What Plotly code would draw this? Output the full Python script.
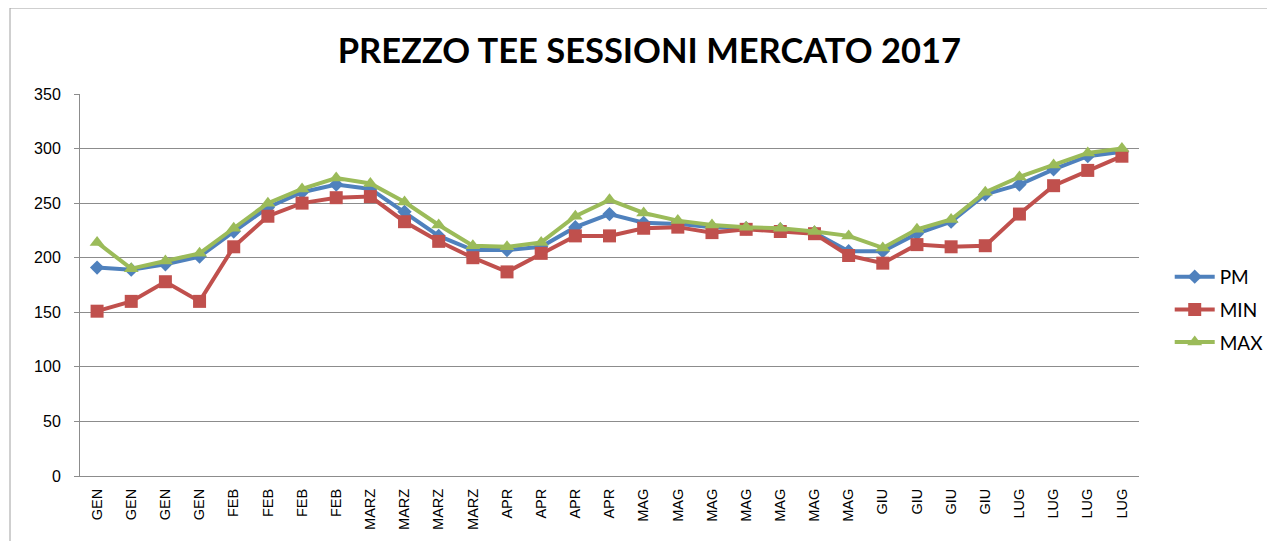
import plotly.graph_objects as go

categories = ["GEN"] * 4 + ["FEB"] * 4 + ["MARZ"] * 4 + ["APR"] * 4 + ["MAG"] * 7 + ["GIU"] * 4 + ["LUG"] * 4

pm = [191, 189, 194, 201, 224, 246, 260, 267, 263, 242, 220, 207, 207, 210, 228, 240,
      232, 231, 228, 227, 226, 223, 206, 206, 222, 233, 258, 267, 281, 293, 297]
mn = [151, 160, 178, 160, 210, 238, 250, 255, 256, 233, 215, 200, 187, 204, 220, 220,
      227, 228, 223, 226, 224, 222, 202, 195, 212, 210, 211, 240, 266, 280, 293]
mx = [214, 190, 197, 204, 227, 250, 263, 273, 268, 251, 230, 211, 210, 214, 238, 253,
      241, 234, 230, 228, 227, 224, 220, 209, 226, 235, 260, 274, 285, 296, 300]

y_ticks = [0, 50, 100, 150, 200, 250, 300, 350]

idx = list(range(len(categories)))

fig = go.Figure()
fig.add_trace(go.Scatter(x=idx, y=pm, name="PM", mode="lines+markers", legendgroup="a",
                         line=dict(color="#4F81BD", width=4),
                         marker=dict(symbol="diamond", size=11, color="#4F81BD")))
fig.add_trace(go.Scatter(x=idx, y=mn, name="MIN", mode="lines+markers", legendgroup="b",
                         line=dict(color="#C0504D", width=4),
                         marker=dict(symbol="square", size=13, color="#C0504D")))
fig.add_trace(go.Scatter(x=idx, y=mx, name="MAX", mode="lines+markers", legendgroup="c",
                         line=dict(color="#9BBB59", width=4),
                         marker=dict(symbol="triangle-up", size=13, color="#9BBB59")))

fig.update_layout(
    width=1275, height=541,
    margin=dict(l=72, r=144, t=86, b=73),
    paper_bgcolor="white", plot_bgcolor="white",
    title=dict(text="<b>PREZZO TEE SESSIONI MERCATO 2017</b>", x=0.503, xanchor="center",
               y=0.92, yanchor="middle",
               font=dict(family="Lato", size=34.5, color="black")),
    xaxis=dict(range=[-0.5, len(categories) - 0.5], tickmode="array", tickvals=idx,
               ticktext=categories, tickangle=-90, showgrid=False, zeroline=False,
               showline=True, linecolor="#8c8c8c", linewidth=1,
               ticks="outside", ticklen=4, tickcolor="white", ticklabelstandoff=2,
               tickfont=dict(family="Liberation Sans", size=14.5, color="black")),
    yaxis=dict(range=[0, 350], tickvals=y_ticks, showgrid=True, gridcolor="#8c8c8c",
               gridwidth=1, zeroline=False, showline=True, linecolor="#8c8c8c",
               ticks="outside", ticklen=5, tickcolor="#8c8c8c", ticklabelstandoff=10,
               tickfont=dict(family="Liberation Sans", size=16, color="black")),
    legend=dict(x=1.029, y=0.435, xanchor="left", yanchor="middle",
                font=dict(family="Lato", size=19, color="black"),
                tracegroupgap=5, itemwidth=40),
    shapes=[dict(type="rect", xref="paper", yref="paper",
                 x0=(10 - 80) / 1059, x1=(1272 - 80) / 1059,
                 y0=-0.2, y1=(476 - 8) / 382,
                 line=dict(color="#a0a0a0", width=1), layer="below")],
)

fig.write_html("out.html")
